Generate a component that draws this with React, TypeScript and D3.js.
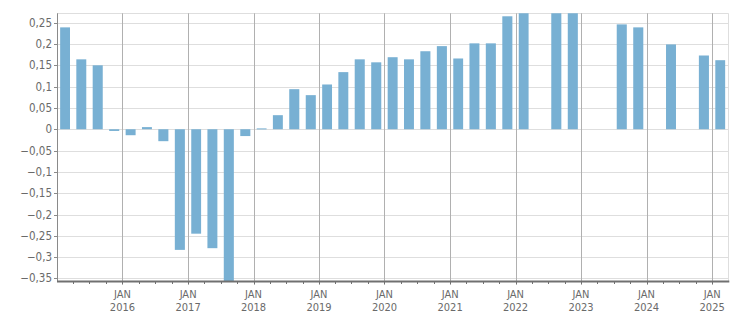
import React from "react";
import * as d3 from "d3";

// Quarterly values, Q1 2015 .. Q1 2025 (null = no bar)
const quarters: string[] = [
  "2015-Q1","2015-Q2","2015-Q3","2015-Q4",
  "2016-Q1","2016-Q2","2016-Q3","2016-Q4",
  "2017-Q1","2017-Q2","2017-Q3","2017-Q4",
  "2018-Q1","2018-Q2","2018-Q3","2018-Q4",
  "2019-Q1","2019-Q2","2019-Q3","2019-Q4",
  "2020-Q1","2020-Q2","2020-Q3","2020-Q4",
  "2021-Q1","2021-Q2","2021-Q3","2021-Q4",
  "2022-Q1","2022-Q2","2022-Q3","2022-Q4",
  "2023-Q1","2023-Q2","2023-Q3","2023-Q4",
  "2024-Q1","2024-Q2","2024-Q3","2024-Q4",
  "2025-Q1",
];
const values: (number | null)[] = [
  0.239, 0.164, 0.15, -0.004,
  -0.014, 0.005, -0.028, -0.283,
  -0.245, -0.279, -0.38, -0.016,
  0.002, 0.033, 0.094, 0.08,
  0.105, 0.134, 0.164, 0.157,
  0.169, 0.164, 0.183, 0.195,
  0.166, 0.2015, 0.2015, 0.265,
  0.29, null, 0.29, 0.29,
  null, null, 0.246, 0.239,
  null, 0.199, null, 0.173,
  0.162,
];
const yTicks: number[] = [-0.35, -0.3, -0.25, -0.2, -0.15, -0.1, -0.05, 0, 0.05, 0.1, 0.15, 0.2, 0.25];
const yearTicks: number[] = [2016, 2017, 2018, 2019, 2020, 2021, 2022, 2023, 2024, 2025];
const monthLabel = "JAN";

const W = 751, H = 313;
const left = 57, right = 728.3, top = 13.3, bottom = 281;
const BAR = "#78b0d3";
const TXT = "#6a6a6a";
const FONT = "Tahoma, 'DejaVu Sans Condensed', 'Liberation Sans', sans-serif";

function qStart(q: string): Date {
  const [y, qq] = q.split("-Q");
  return new Date(Date.UTC(+y, (+qq - 1) * 3, 1));
}
function qEnd(q: string): Date {
  const [y, qq] = q.split("-Q");
  return new Date(Date.UTC(+y, +qq * 3, 1));
}

export default function App() {
  const x = d3.scaleUtc()
    .domain([new Date(Date.UTC(2015, 0, 1)), new Date(Date.UTC(2025, 3, 1))])
    .range([left, right]);
  const y = d3.scaleLinear().domain([-0.356, 0.272]).range([bottom, top]);
  const fmt = (v: number) => d3.format("")(+v.toFixed(2)).replace(".", ",").replace("-", "-");

  const quarterTicks = d3.utcMonth.every(3)!.range(new Date(Date.UTC(2015, 3, 1)), new Date(Date.UTC(2025, 3, 1)));

  return (
    <svg width={W} height={H} style={{ position: "absolute", left: 0, top: 0 }} fontFamily={FONT}>
      <defs>
        <clipPath id="plot">
          <rect x={left} y={top} width={right - left} height={bottom - top} />
        </clipPath>
      </defs>
      <rect x={0} y={0} width={W} height={H} fill="#fff" />
      {/* horizontal grid */}
      {yTicks.map((t) => (
        <line key={"h" + t} x1={left} x2={right} y1={Math.round(y(t)) + 0.5} y2={Math.round(y(t)) + 0.5} stroke="#dedede" />
      ))}
      <line x1={left} x2={right} y1={Math.round(top) + 0.5} y2={Math.round(top) + 0.5} stroke="#dedede" />
      <line x1={Math.round(right) + 0.5} x2={Math.round(right) + 0.5} y1={top} y2={bottom} stroke="#dedede" />
      {/* vertical year grid */}
      {yearTicks.map((yr) => {
        const xx = Math.round(x(new Date(Date.UTC(yr, 0, 1)))) + 0.5;
        return <line key={"v" + yr} x1={xx} x2={xx} y1={top} y2={bottom + 4} stroke="#b0b0b0" />;
      })}
      {/* bars */}
      <g clipPath="url(#plot)">
        {quarters.map((q, i) => {
          const v = values[i];
          if (v === null) return null;
          const x0 = x(qStart(q)), x1 = x(qEnd(q));
          const cx = (x0 + x1) / 2;
          const bw = (x1 - x0) * 0.61;
          const yv = y(v), y0 = y(0);
          return (
            <rect key={q} x={cx - bw / 2} width={bw} y={Math.min(yv, y0)} height={Math.max(1, Math.abs(yv - y0))} fill={BAR} />
          );
        })}
      </g>
      {/* left axis */}
      <line x1={left + 0.5} x2={left + 0.5} y1={top} y2={bottom} stroke="#8a8a8a" />
      {yTicks.map((t) => (
        <g key={"yt" + t}>
          <line x1={left - 3} x2={left} y1={Math.round(y(t)) + 0.5} y2={Math.round(y(t)) + 0.5} stroke="#8a8a8a" />
          <text x={left - 5} y={y(t)} dy="0.35em" textAnchor="end" fontSize={11.5} fill={TXT}>{fmt(t)}</text>
        </g>
      ))}
      {/* bottom axis */}
      <line x1={left} x2={right + 1} y1={bottom + 0.5} y2={bottom + 0.5} stroke="#707070" strokeWidth={2} />
      {quarterTicks.map((d, i) => {
        const xx = Math.round(x(d)) + 0.5;
        return <line key={"qt" + i} x1={xx} x2={xx} y1={bottom} y2={bottom + 3} stroke="#707070" />;
      })}
      {yearTicks.map((yr) => {
        const xx = x(new Date(Date.UTC(yr, 0, 1)));
        return (
          <g key={"yl" + yr}>
            <text x={xx} y={298} textAnchor="middle" fontSize={11} fill={TXT}>{monthLabel}</text>
            <text x={xx} y={311} textAnchor="middle" fontSize={11} fill={TXT}>{yr}</text>
          </g>
        );
      })}
    </svg>
  );
}
